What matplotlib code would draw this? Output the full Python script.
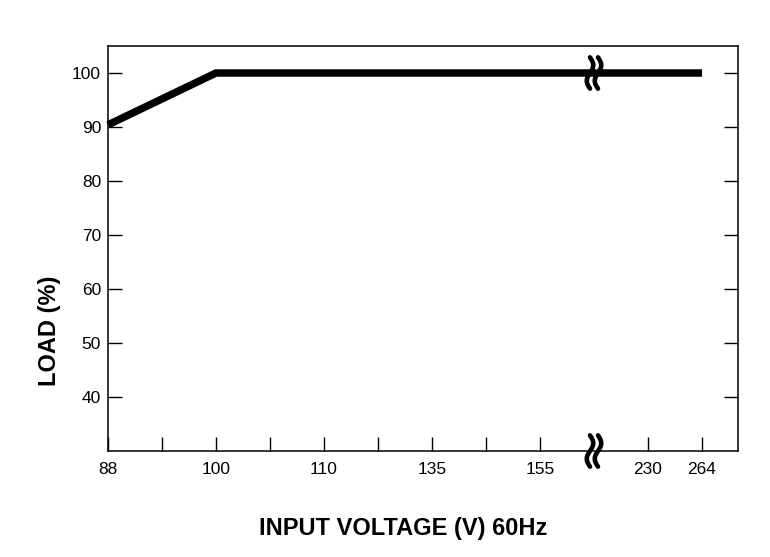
import matplotlib
matplotlib.use("Agg")
import matplotlib.pyplot as plt
import numpy as np

# x axis is categorical (broken scale), positions by index
volt_labels = ["88", "100", "110", "135", "155", "230", "264"]
volt_pos = [0, 1, 2, 3, 4, 5, 5.5]

# derating curve: voltage position -> load %
curve_x = [0, 1, 5.5]
curve_y = [90.4, 100, 100]

load_ticks = [40, 50, 60, 70, 80, 90, 100]

plt.rcParams['font.family'] = ['Liberation Sans Narrow', 'Liberation Sans', 'DejaVu Sans']

fig = plt.figure(figsize=(7.7, 5.57), dpi=100)
ax = fig.add_axes([108/770, 1 - 451/557, 630/770, 405/557])

ax.plot(curve_x, curve_y, color='black', lw=5.4, solid_capstyle='butt',
        solid_joinstyle='miter', clip_on=False, zorder=3)

ax.set_xlim(0, 630/108)
ax.set_ylim(30, 30 + 405/5.4)

ax.set_xticks(volt_pos)
ax.set_xticklabels(volt_labels)
minor = [p + 0.5 for p in range(0, 4)]
ax.set_xticks(minor, minor=True)
ax.set_yticks(load_ticks)

ax.tick_params(axis='both', which='both', direction='in', length=10, width=1,
               labelsize=12.5)
ax.tick_params(axis='y', right=True, pad=5)
ax.tick_params(axis='x', pad=8)

for s in ax.spines.values():
    s.set_linewidth(1.1)

# break marks at position 4.5
def break_mark(xc, ytop, ybot):
    t = np.linspace(0, 1, 40)
    for dx in (-0.037, 0.037):
        xs = xc + dx + 0.03 * np.sin(2 * np.pi * t)
        ys = ytop + (ybot - ytop) * t
        ax.plot(xs, ys, color='black', lw=3.3, clip_on=False, zorder=4,
                solid_capstyle='round')

break_mark(4.5, 102.9, 97.1)
break_mark(4.5, 32.9, 27.1)

fig.text(403/770, 1 - 528/557, "INPUT VOLTAGE (V) 60Hz", ha='center', va='center',
         fontsize=17, fontweight='bold')
fig.text(50/770, 1 - 331/557, "LOAD (%)", ha='center', va='center', rotation=90,
         fontsize=17, fontweight='bold')

fig.savefig("out.png", dpi=100)
